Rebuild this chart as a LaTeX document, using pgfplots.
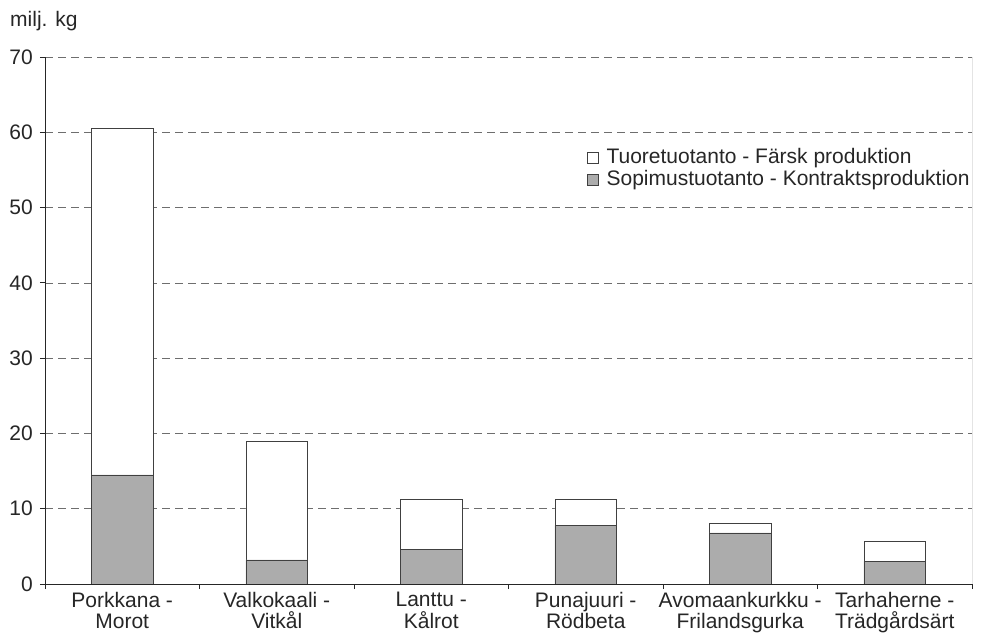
\documentclass[border=0pt]{standalone}
\usepackage{fontspec}
\setmainfont{Liberation Sans}
\usepackage{pgfplots}
\pgfplotsset{compat=1.18}
\definecolor{barg}{RGB}{172,172,172}
\definecolor{gridg}{RGB}{110,110,110}
\begin{document}
\fontsize{21bp}{23bp}\selectfont
\begin{tikzpicture}
\path[use as bounding box] (0,0) rectangle (989bp,634bp);
\begin{axis}[
  name=main,
  at={(45bp,50bp)}, anchor=south west,
  scale only axis, width=927bp, height=527bp,
  xmin=-0.5, xmax=5.5, ymin=0, ymax=70,
  ybar stacked, bar width=0.4,
  axis x line*=bottom, axis y line*=left,
  axis line style={line width=0.9bp, black!85},
  tick style={line width=0.8bp, black!85},
  tick align=outside, major tick length=5bp,
  ytick={0,10,...,70},
  ymajorgrids, grid style={gridg, line width=0.7bp, dash pattern=on 8bp off 5bp},
  xtick={-0.5,0.5,...,5.5}, xticklabels={},
  extra x ticks={0,1,2,3,4,5},
  extra x tick labels={{Porkkana -\\Morot},{Valkokaali -\\Vitkål},{Lanttu -\\Kålrot},{Punajuuri -\\Rödbeta},{Avomaankurkku -\\Frilandsgurka},{Tarhaherne -\\Trädgårdsärt}},
  extra x tick style={major tick length=0pt, grid=none},
  xticklabel style={align=center, font=\fontsize{21bp}{21.5bp}\selectfont, text=black!85, inner ysep=2bp, yshift=-6bp},
  yticklabel style={font=\fontsize{21bp}{23bp}\selectfont, text=black!85},
  /pgf/number format/assume math mode=true,
  reverse legend,
  legend image code/.code={\draw[#1, line width=0.6bp] (0bp,-5.5bp) rectangle (11bp,5.5bp); \path[draw=none, fill=none] (0bp,0bp) rectangle (17bp,0.1bp);},
  legend style={at={(1.003,0.835)}, anchor=north east, draw=none, fill=none,
    font=\fontsize{21bp}{23bp}\selectfont, text=black!85, row sep=0bp},
  legend cell align=left,
]
\addplot[fill=barg, draw=black!75, line width=0.6bp] coordinates {(0,14.5) (1,3.2) (2,4.6) (3,7.8) (4,6.8) (5,3.0)};
\addplot[fill=white, draw=black!75, line width=0.6bp] coordinates {(0,46.0) (1,15.8) (2,6.6) (3,3.4) (4,1.3) (5,2.7)};
\legend{Sopimustuotanto - Kontraktsproduktion, Tuoretuotanto - Färsk produktion}
\draw[line width=0.9bp, black!85] (rel axis cs:1,0) -- (rel axis cs:1,1);
\end{axis}
\node[anchor=base west, inner sep=0, xshift=-35bp, yshift=30bp, text=black!85] at (main.north west) {milj. kg};
\end{tikzpicture}
\end{document}
